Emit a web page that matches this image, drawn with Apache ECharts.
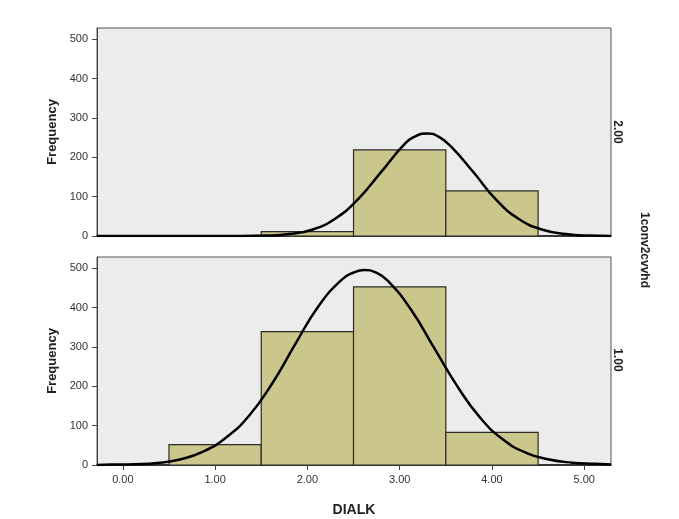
<!DOCTYPE html>
<html>
<head>
<meta charset="utf-8">
<script src="https://cdn.jsdelivr.net/npm/echarts@6/dist/echarts.min.js"></script>
<style>
  html, body { margin: 0; padding: 0; background: #fff; }
  #main { width: 679px; height: 519px; }
</style>
</head>
<body>
<div id="main"></div>
<script>
// bins: [start, end]
var binEdges = [[0.5, 1.5], [1.5, 2.5], [2.5, 3.5], [3.5, 4.5]];
// counts per bin, panel 1conv2cvvhd = 2.00 (top) and 1.00 (bottom)
var countsTop = [0, 11, 219, 115];
var countsBottom = [52, 339, 453, 83];
var curveTopX = [-0.28, 0.05, 0.55, 1.05, 1.3, 1.55, 1.8, 2.05, 2.3, 2.55, 2.8, 3.05, 3.175, 3.3, 3.425, 3.55, 3.8, 4.05, 4.3, 4.55, 4.8, 5.05, 5.29];
var curveTop = [0, 0, 0, 0, 0, 1, 5, 16, 44, 94, 163, 233, 254, 261, 252, 229, 162, 91, 42, 16, 5, 1, 0];
var curveBottomX = [-0.28, -0.13, 0.12, 0.37, 0.62, 0.87, 1.12, 1.37, 1.62, 1.87, 2.12, 2.37, 2.495, 2.62, 2.745, 2.87, 3.12, 3.37, 3.62, 3.87, 4.12, 4.37, 4.62, 4.87, 5.12, 5.29];
var curveBottom = [0, 1, 2, 5, 14, 34, 70, 126, 208, 308, 404, 471, 489, 496, 489, 469, 396, 299, 202, 121, 65, 31, 14, 6, 3, 1];
var xTicks = [0, 1, 2, 3, 4, 5];
var yTicks = [0, 100, 200, 300, 400, 500];
var panelLabels = ['2.00', '1.00'];

function pairs(xs, ys) {
  return xs.map(function (x, i) { return [x, ys[i]]; });
}
function binData(counts) {
  return binEdges.map(function (b, i) { return [b[0], b[1], counts[i]]; })
    .filter(function (d) { return d[2] > 0; });
}
function renderBar(params, api) {
  var p0 = api.coord([api.value(0), api.value(2)]);
  var p1 = api.coord([api.value(1), 0]);
  return {
    type: 'rect',
    shape: { x: p0[0], y: p0[1], width: p1[0] - p0[0], height: p1[1] - p0[1] },
    style: { fill: '#cbc68b', stroke: '#2b2b2b', lineWidth: 1.2 }
  };
}

var font = 'Liberation Sans, Arial, sans-serif';
var labelStyle = { color: '#333', fontSize: 11, fontFamily: font };

function xAxisOf(idx, showLabels) {
  return {
    type: 'value', gridIndex: idx, min: -0.28, max: 5.29,
    axisLine: { show: true, onZero: false, lineStyle: { color: '#111', width: 1.5 } },
    axisTick: { show: showLabels, length: 5, customValues: xTicks, lineStyle: { color: '#444' } },
    axisLabel: showLabels ? Object.assign({ customValues: xTicks, margin: 9,
      formatter: function (v) { return v.toFixed(2); } }, labelStyle) : { show: false },
    splitLine: { show: false },
    name: showLabels ? 'DIALK' : '', nameLocation: 'middle', nameGap: 38,
    nameTextStyle: { fontWeight: 'bold', fontSize: 14, color: '#222', fontFamily: font }
  };
}
function yAxisOf(idx) {
  return {
    type: 'value', gridIndex: idx, min: 0, max: 529,
    axisLine: { show: true, onZero: false, lineStyle: { color: '#444' } },
    axisTick: { show: true, inside: false, length: 5, customValues: yTicks, lineStyle: { color: '#444' } },
    axisLabel: Object.assign({ customValues: yTicks, margin: 9 }, labelStyle),
    splitLine: { show: false },
    name: 'Frequency', nameLocation: 'middle', nameGap: 38, nameRotate: 90,
    nameTextStyle: { fontWeight: 'bold', fontSize: 13, color: '#222', fontFamily: font }
  };
}

var chart = echarts.init(document.getElementById('main'));
var option = {
  backgroundColor: '#fff',
  animation: false,
  grid: [
    { left: 97, right: 68, top: 28, height: 208, show: true, backgroundColor: '#ececec', borderColor: '#555', borderWidth: 1 },
    { left: 97, right: 68, top: 257, height: 208, show: true, backgroundColor: '#ececec', borderColor: '#555', borderWidth: 1 }
  ],
  xAxis: [xAxisOf(0, false), xAxisOf(1, true)],
  yAxis: [yAxisOf(0), yAxisOf(1)],
  series: [
    { type: 'custom', xAxisIndex: 0, yAxisIndex: 0, renderItem: renderBar,
      encode: { x: [0, 1], y: 2 }, data: binData(countsTop), z: 2 },
    { type: 'custom', xAxisIndex: 1, yAxisIndex: 1, renderItem: renderBar,
      encode: { x: [0, 1], y: 2 }, data: binData(countsBottom), z: 2 },
    { type: 'line', xAxisIndex: 0, yAxisIndex: 0, data: pairs(curveTopX, curveTop), smooth: 0.5,
      showSymbol: false, lineStyle: { color: '#000', width: 2.5 }, z: 3 },
    { type: 'line', xAxisIndex: 1, yAxisIndex: 1, data: pairs(curveBottomX, curveBottom), smooth: 0.5,
      showSymbol: false, lineStyle: { color: '#000', width: 2.5 }, z: 3 }
  ],
  graphic: [
    { type: 'text', x: 617, y: 132, rotation: -Math.PI / 2,
      style: { text: panelLabels[0], font: 'bold 12px ' + font, fill: '#222', textAlign: 'center', textVerticalAlign: 'middle' } },
    { type: 'text', x: 617, y: 360, rotation: -Math.PI / 2,
      style: { text: panelLabels[1], font: 'bold 12px ' + font, fill: '#222', textAlign: 'center', textVerticalAlign: 'middle' } },
    { type: 'text', x: 644, y: 250, rotation: -Math.PI / 2,
      style: { text: '1conv2cvvhd', font: 'bold 12px ' + font, fill: '#222', textAlign: 'center', textVerticalAlign: 'middle' } }
  ]
};
chart.setOption(option);
</script>
</body>
</html>
